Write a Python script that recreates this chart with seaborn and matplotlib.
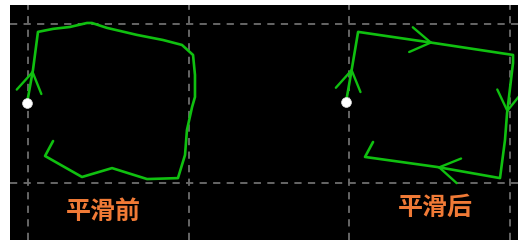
import numpy as np
import matplotlib
matplotlib.use("Agg")
import matplotlib.pyplot as plt
import seaborn as sns

# path before smoothing (grid units, gridlines every 10)
raw_x = [-0.06, 0.31, 0.62, 1.56, 2.61, 3.67, 3.98, 4.92, 6.78, 8.40, 9.58, 10.27,
         10.39, 10.39, 10.21, 9.89, 9.77, 9.33, 7.41, 5.23, 3.36, 1.06, 1.56]
raw_y = [5.03, 7.11, 9.50, 9.69, 9.81, 10.06, 10.06, 9.75, 9.31, 8.99, 8.68, 8.05,
         6.79, 5.41, 4.78, 3.33, 1.76, 0.31, 0.25, 0.94, 0.38, 1.70, 2.64]
raw_arrows = [1]  # vertex indices where a direction arrow sits

# path after smoothing
smooth_x = [19.79, 20.16, 20.54, 25.20, 30.18, 30.18, 29.81, 29.68, 29.37, 25.45, 20.97, 21.47]
smooth_y = [5.09, 7.23, 9.50, 8.81, 8.05, 7.55, 4.40, 2.70, 0.31, 1.01, 1.64, 2.58]
smooth_arrows = [1, 3, 6, 9]

labels = ["平滑前", "平滑后"]
label_x = [4.67, 25.33]
label_y = [-1.82, -1.57]

grid_x = [0, 10, 20, 30]
grid_y = [0, 10]

GREEN = "#10c010"
ORANGE = "#f07a36"

sns.set_theme(style="dark")
plt.rcParams["font.family"] = ["Noto Sans CJK SC", "DejaVu Sans"]

fig = plt.figure(figsize=(5.18, 2.44), dpi=100)
fig.patch.set_facecolor("white")
ax = fig.add_axes([10 / 518, 4 / 244, 508 / 518, 235 / 244])
ax.set_facecolor("black")

for xs, ys, arrows in [(raw_x, raw_y, raw_arrows), (smooth_x, smooth_y, smooth_arrows)]:
    sns.lineplot(x=xs, y=ys, sort=False, estimator=None, color=GREEN,
                 linewidth=1.9, ax=ax)
    for i in arrows:
        d = np.array([xs[i] - xs[i - 1], ys[i] - ys[i - 1]])
        d = d / np.hypot(*d)
        tail = (xs[i] - 0.3 * d[0], ys[i] - 0.3 * d[1])
        ax.annotate("", xy=(xs[i], ys[i]), xytext=tail,
                    arrowprops=dict(arrowstyle="->,head_length=1.2,head_width=0.75",
                                    color=GREEN, lw=1.7, shrinkA=0, shrinkB=0))
    sns.scatterplot(x=[xs[0]], y=[ys[0]], color="white", s=50, edgecolor="#dddddd",
                    linewidth=0.5, zorder=5, ax=ax)

for t, lx, ly in zip(labels, label_x, label_y):
    ax.text(lx, ly, t, color=ORANGE, fontsize=18, fontweight="bold",
            ha="center", va="center")

ax.set_xlim(-1.12, 30.49)
ax.set_ylim(-3.58, 11.19)
ax.set_xticks(grid_x)
ax.set_yticks(grid_y)
ax.set_xticklabels([])
ax.set_yticklabels([])
ax.tick_params(length=0)
ax.grid(True, color="#6e6e6e", linestyle=(0, (4, 3.5)), linewidth=1.3)
for s in ax.spines.values():
    s.set_visible(False)

fig.savefig("out.png", dpi=100)
